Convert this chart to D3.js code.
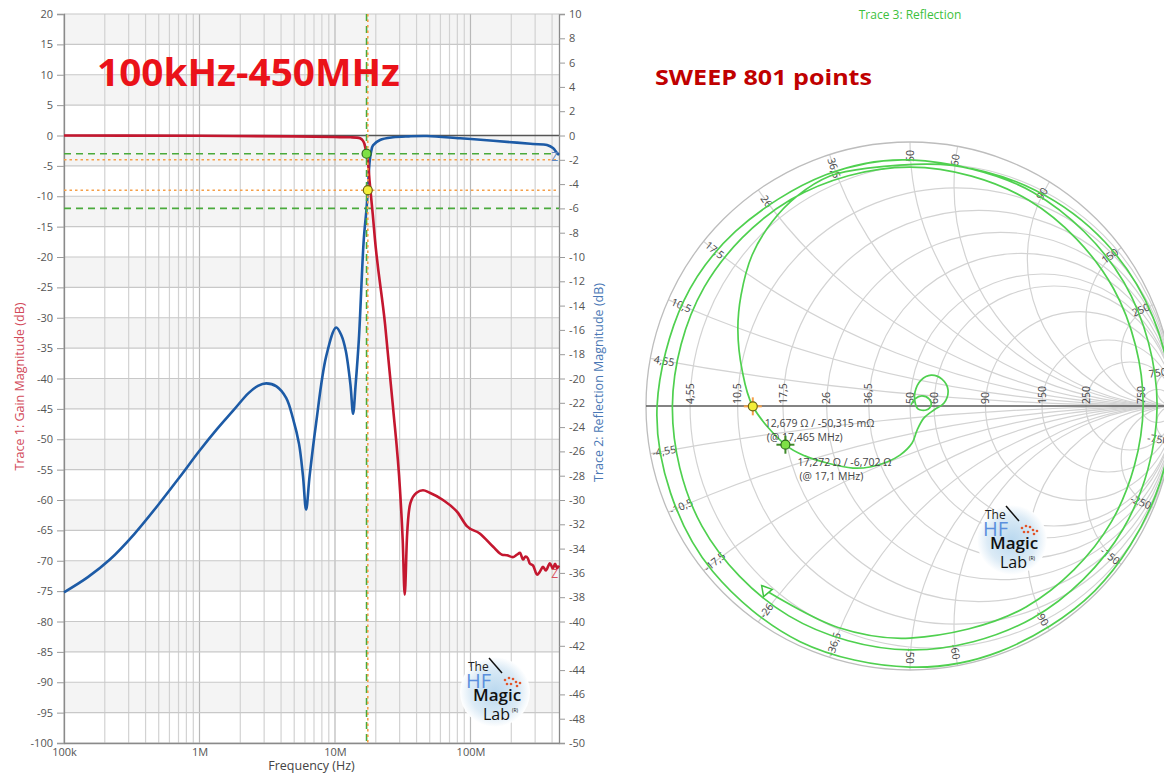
<!DOCTYPE html>
<html>
<head>
<meta charset="utf-8">
<script src="https://cdn.jsdelivr.net/npm/d3@7"></script>
<style>
body { margin: 0; background: #fff; }
svg { display: block; font-family: "Open Sans", "Noto Sans", sans-serif; }
</style>
</head>
<body>
<div class="canvas"></div>
<script>
// trace 1: gain (dB) vs frequency (Hz)
var gainFreq = [1e5, 1e6, 5e6, 1e7, 1.3e7, 1.45e7, 1.53e7, 1.6e7, 1.65e7, 1.71e7, 1.7465e7, 1.8e7, 1.9e7, 1.97e7,
    2.34e7, 2.68e7, 3.02e7, 3.16e7, 3.27e7, 3.4e7, 3.6e7, 4e7, 4.46e7, 5e7, 6.27e7, 8e7, 9.4e7, 1.17e8,
    1.47e8, 1.71e8, 1.86e8, 2.05e8, 2.2e8, 2.32e8, 2.44e8, 2.55e8, 2.65e8, 2.73e8, 2.9e8, 3.1e8, 3.25e8,
    3.43e8, 3.6e8, 3.86e8, 4.05e8, 4.21e8, 4.35e8, 4.5e8];
var gainDb = [0, -0.05, -0.15, -0.25, -0.3, -0.35, -0.45, -0.8, -1.4, -3.0, -4.0, -7.5, -13, -17,
    -31, -44.7, -58.4, -66.6, -75.6, -66, -60.5, -58.8, -58.4, -58.8, -60, -62, -64.3, -65.5,
    -67.7, -69, -69.1, -69.4, -69, -68.7, -69.8, -69.3, -69.6, -70.4, -70.8, -72.3, -71.8,
    -71, -71.6, -70.4, -71.3, -70.5, -71.2, -70.8];

// trace 2: reflection (dB) vs frequency (Hz)
var reflFreq = [1e5, 1.5e5, 2.18e5, 3.3e5, 5.08e5, 7.1e5, 1e6, 1.35e6, 1.77e6, 2.3e6, 2.7e6, 3.11e6,
    3.7e6, 4.36e6, 4.9e6, 5.43e6, 5.8e6, 6.12e6, 6.5e6, 7.25e6, 8.6e6, 1.02e7, 1.12e7, 1.2e7, 1.3e7,
    1.36e7, 1.42e7, 1.5e7, 1.63e7, 1.71e7, 1.7465e7, 1.8e7, 1.85e7, 1.91e7, 2.15e7, 2.68e7, 3.5e7,
    4.77e7, 8.4e7, 1.47e8, 2.2e8, 2.89e8, 3.67e8, 4.06e8, 4.35e8, 4.5e8];
var reflDb = [-37.6, -36.35, -34.9, -32.8, -30.25, -28.15, -25.95, -24.15, -22.65, -21.2, -20.6, -20.4,
    -20.65, -21.6, -23.3, -25.4, -28.0, -30.8, -28.0, -23.7, -18.2, -15.8, -16.5, -17.7, -20.5,
    -22.9, -20.5, -16.8, -8.6, -6.0, -4.5, -2.2, -1.3, -0.8, -0.37, -0.15, -0.07,
    -0.04, -0.23, -0.43, -0.59, -0.70, -0.78, -1.03, -1.44, -1.6];

// markers (freq, gain, reflection)
var markerFreq = [17.1e6, 17.465e6];
var markerGain = [-3, -4];
var markerRefl = [-6, -4.5];

// axis ticks
var gainTicks = d3.range(-100, 21, 5);
var reflTicks = d3.range(-50, 11, 2);
var freqTicks = [1e5, 1e6, 1e7, 1e8];
var freqTickLabels = ['100k', '1M', '10M', '100M'];

// trace 3: smith chart, first part as reflection coefficient re / im
var smithRe = [0.004, 0.019, 0.045, 0.072, 0.080, 0.061, 0.030, 0.019, 0.019, 0.042, 0.080, 0.121,
    0.144, 0.129, 0.091, 0.053, 0.027, 0.008, -0.038, -0.087, -0.152, -0.216, -0.314, -0.398, -0.472,
    -0.596, -0.636, -0.652, -0.640, -0.598, -0.523, -0.428, -0.303, -0.160];
var smithIm = [0.004, 0.027, 0.038, 0.027, 0.004, -0.015, -0.011, 0.015, 0.053, 0.098, 0.117, 0.102,
    0.061, 0.011, -0.015, -0.045, -0.091, -0.140, -0.186, -0.212, -0.231, -0.235, -0.216, -0.189, -0.147,
    0.000, 0.136, 0.288, 0.420, 0.572, 0.697, 0.795, 0.871, 0.901];
// then the laps near the rim, as angle (deg, running clockwise) / magnitude
var lapAngle = [80, 60, 40, 20, 0, -20, -45, -70, -90, -115, -140, -160, -180, -205, -225, -250, -270,
    -300, -330, -360, -390, -420, -450, -480, -510, -540, -570, -600, -630, -660, -690, -720, -750,
    -780, -810, -828, -848];
var lapMag = [0.925, 0.945, 0.965, 0.98, 0.99, 0.99, 0.99, 0.99, 0.989, 0.985, 0.975, 0.965, 0.958,
    0.945, 0.935, 0.932, 0.932, 0.934, 0.936, 0.936, 0.932, 0.928, 0.924, 0.918, 0.91, 0.90, 0.90,
    0.903, 0.905, 0.90, 0.89, 0.883, 0.88, 0.879, 0.879, 0.882, 0.887];

// smith grid values (ohm) and marker impedances
var smithGrid = [4.55, 10.5, 17.5, 26, 36.5, 50, 60, 90, 150, 250, 750];
var smithMarkR = [12.679, 17.272];
var smithMarkX = [-0.050315, -6.702];
var smithMarkText = [['12,679 \u03A9 / -50,315 m\u03A9', '(@ 17,465 MHz)'],
                     ['17,272 \u03A9 / -6,702 \u03A9', '(@ 17,1 MHz)']];

var width = 1164, height = 774;

var svg = d3.select('.canvas').append('svg')
    .attr('width', width)
    .attr('height', height);

var defs = svg.append('defs');
var grad = defs.append('radialGradient').attr('id', 'logoGrad');
grad.append('stop').attr('offset', '0%').attr('stop-color', '#b9d8ef');
grad.append('stop').attr('offset', '70%').attr('stop-color', '#dcebf6');
grad.append('stop').attr('offset', '100%').attr('stop-color', '#ffffff');

// ---------- left: bode plot ----------
var plot = {left: 64, right: 559, top: 14, bottom: 743};

var x = d3.scaleLog().domain([1e5, 4.5e8]).range([plot.left, plot.right]);
var yGain = d3.scaleLinear().domain([-100, 20]).range([plot.bottom, plot.top]);
var yRefl = d3.scaleLinear().domain([-50, 10]).range([plot.bottom, plot.top]);

var bode = svg.append('g');

// shaded bands every other 5 dB
bode.selectAll('rect.band')
    .data(d3.range(-100, 20, 5).filter(function (v) { return (v + 5) % 10 === 0; }))
    .enter().append('rect')
    .attr('x', plot.left).attr('width', plot.right - plot.left)
    .attr('y', function (d) { return yGain(d + 5); })
    .attr('height', function (d) { return yGain(d) - yGain(d + 5); })
    .attr('fill', '#f4f4f4');

// vertical log grid
var minor = [];
[1e5, 1e6, 1e7, 1e8].forEach(function (dec) {
    for (var k = 1; k < 10; k++) {
        if (dec * k <= 4.5e8) minor.push(dec * k);
    }
});
bode.selectAll('line.vgrid')
    .data(minor)
    .enter().append('line')
    .attr('x1', function (d) { return x(d); })
    .attr('x2', function (d) { return x(d); })
    .attr('y1', plot.top).attr('y2', plot.bottom)
    .attr('stroke', function (d) { return freqTicks.indexOf(d) >= 0 ? '#b8b8b8' : '#d2d2d2'; })
    .attr('stroke-width', 1.2);

bode.selectAll('line.hgrid')
    .data(gainTicks)
    .enter().append('line')
    .attr('x1', plot.left).attr('x2', plot.right)
    .attr('y1', function (d) { return yGain(d); })
    .attr('y2', function (d) { return yGain(d); })
    .attr('stroke', function (d) { return d === 0 ? '#555' : '#c8c8c8'; })
    .attr('stroke-width', function (d) { return d === 0 ? 1.6 : 1.2; });

// axes
function styleAxis(g) {
    g.select('.domain').attr('stroke', '#8a8a8a').attr('stroke-width', 1.3);
    g.selectAll('.tick line').attr('stroke', '#9a9a9a');
    g.selectAll('.tick text').attr('fill', '#555').attr('font-size', 11)
        .attr('font-family', '"Open Sans", sans-serif');
}

bode.append('g')
    .attr('transform', 'translate(' + plot.left + ',0)')
    .call(d3.axisLeft(yGain).tickValues(gainTicks).tickSize(7).tickPadding(4)
        .tickFormat(function (d) { return String(d); }))
    .call(styleAxis);

bode.append('g')
    .attr('transform', 'translate(' + plot.right + ',0)')
    .call(d3.axisRight(yRefl).tickValues(reflTicks).tickSize(6).tickPadding(4)
        .tickFormat(function (d) { return String(d); }))
    .call(styleAxis);

bode.append('g')
    .attr('transform', 'translate(0,' + plot.bottom + ')')
    .call(d3.axisBottom(x).tickValues(freqTicks).tickSize(0).tickPadding(5)
        .tickFormat(function (d, i) { return freqTickLabels[i]; }))
    .call(styleAxis);

// marker guide lines
var hGuides = [
    {v: yGain(markerGain[0]), c: '#4aaa3c', dash: '7,5'},
    {v: yRefl(markerRefl[0]), c: '#4aaa3c', dash: '7,5'},
    {v: yGain(markerGain[1]), c: '#f5a04a', dash: '2.5,3'},
    {v: yRefl(markerRefl[1]), c: '#f5a04a', dash: '2.5,3'}
];
bode.selectAll('line.hguide')
    .data(hGuides)
    .enter().append('line')
    .attr('x1', plot.left).attr('x2', plot.right)
    .attr('y1', function (d) { return d.v; })
    .attr('y2', function (d) { return d.v; })
    .attr('stroke', function (d) { return d.c; })
    .attr('stroke-width', 1.6)
    .attr('stroke-dasharray', function (d) { return d.dash; });

// traces
var gainLine = d3.line()
    .x(function (d) { return x(d[0]); })
    .y(function (d) { return yGain(d[1]); })
    .curve(d3.curveMonotoneX);
var reflLine = d3.line()
    .x(function (d) { return x(d[0]); })
    .y(function (d) { return yRefl(d[1]); })
    .curve(d3.curveCatmullRom.alpha(0.5));

bode.append('path')
    .datum(d3.zip(reflFreq, reflDb))
    .attr('d', reflLine)
    .attr('fill', 'none')
    .attr('stroke', '#1d5ba6')
    .attr('stroke-width', 2.6);

bode.append('path')
    .datum(d3.zip(gainFreq, gainDb))
    .attr('d', gainLine)
    .attr('fill', 'none')
    .attr('stroke', '#c4172f')
    .attr('stroke-width', 2.6);

// vertical marker lines
bode.append('line')
    .attr('x1', x(markerFreq[0])).attr('x2', x(markerFreq[0]))
    .attr('y1', plot.top).attr('y2', plot.bottom)
    .attr('stroke', '#4aaa3c').attr('stroke-width', 1.6).attr('stroke-dasharray', '7,5');
bode.append('line')
    .attr('x1', x(markerFreq[1])).attr('x2', x(markerFreq[1]))
    .attr('y1', plot.top).attr('y2', plot.bottom)
    .attr('stroke', '#f5a04a').attr('stroke-width', 1.6).attr('stroke-dasharray', '2.5,3');

// marker dots
bode.append('circle')
    .attr('cx', x(markerFreq[0])).attr('cy', yGain(markerGain[0])).attr('r', 4.5)
    .attr('fill', '#7ee046').attr('stroke', '#2d6a1c').attr('stroke-width', 1.2);
bode.append('circle')
    .attr('cx', x(markerFreq[1])).attr('cy', yRefl(markerRefl[1])).attr('r', 4.5)
    .attr('fill', '#f2ee3a').attr('stroke', '#6b6414').attr('stroke-width', 1.2);

// end tags
bode.append('text')
    .attr('x', plot.right - 1).attr('y', yRefl(reflDb[reflDb.length - 1]) + 6)
    .attr('text-anchor', 'end').attr('font-size', 12).attr('fill', '#5f86c0').text('Z');
bode.append('text')
    .attr('x', plot.right - 1).attr('y', yGain(gainDb[gainDb.length - 1]) + 12)
    .attr('text-anchor', 'end').attr('font-size', 12).attr('fill', '#d9505e').text('Z');

// axis titles
bode.append('text')
    .attr('transform', 'translate(24,' + ((plot.top + plot.bottom) / 2 + 8) + ') rotate(-90)')
    .attr('text-anchor', 'middle').attr('font-size', 12.5).attr('fill', '#d24a5a')
    .text('Trace 1: Gain Magnitude (dB)');
bode.append('text')
    .attr('transform', 'translate(603,' + ((plot.top + plot.bottom) / 2 + 4) + ') rotate(-90)')
    .attr('text-anchor', 'middle').attr('font-size', 12.5).attr('fill', '#4a78b5')
    .text('Trace 2: Reflection Magnitude (dB)');
bode.append('text')
    .attr('x', (plot.left + plot.right) / 2).attr('y', 770)
    .attr('text-anchor', 'middle').attr('font-size', 12.5).attr('fill', '#444')
    .text('Frequency (Hz)');

// big red title
svg.append('text')
    .attr('x', 97).attr('y', 86)
    .attr('font-size', 38).attr('font-weight', 'bold').attr('fill', '#ea1219')
    .attr('textLength', 303).attr('lengthAdjust', 'spacingAndGlyphs')
    .text('100kHz-450MHz');

// ---------- right: smith chart ----------
var smith = {cx: 910, cy: 406, r: 264};
var gx = d3.scaleLinear().domain([-1, 1]).range([smith.cx - smith.r, smith.cx + smith.r]);
var gy = d3.scaleLinear().domain([-1, 1]).range([smith.cy + smith.r, smith.cy - smith.r]);
var unit = gx(1) - gx(0);

defs.append('clipPath').attr('id', 'unitClip')
    .append('circle').attr('cx', gx(0)).attr('cy', gy(0)).attr('r', unit);

var sc = svg.append('g');
var grid = sc.append('g').attr('clip-path', 'url(#unitClip)');

// constant resistance circles
grid.selectAll('circle.res')
    .data(smithGrid)
    .enter().append('circle')
    .attr('cx', function (d) { var r = d / 50; return gx(r / (1 + r)); })
    .attr('cy', gy(0))
    .attr('r', function (d) { var r = d / 50; return unit / (1 + r); })
    .attr('fill', 'none').attr('stroke', '#d3d3d3').attr('stroke-width', 1.2);

// constant reactance arcs
var reactance = smithGrid.concat(smithGrid.map(function (v) { return -v; }));
grid.selectAll('circle.rea')
    .data(reactance)
    .enter().append('circle')
    .attr('cx', gx(1))
    .attr('cy', function (d) { return gy(50 / d); })
    .attr('r', function (d) { return unit * 50 / Math.abs(d); })
    .attr('fill', 'none').attr('stroke', '#d3d3d3').attr('stroke-width', 1.2);

sc.append('circle')
    .attr('cx', gx(0)).attr('cy', gy(0)).attr('r', unit)
    .attr('fill', 'none').attr('stroke', '#bdbdbd').attr('stroke-width', 1.3);

sc.append('line')
    .attr('x1', gx(-1)).attr('x2', width)
    .attr('y1', gy(0)).attr('y2', gy(0))
    .attr('stroke', '#5a5a5a').attr('stroke-width', 1.4);

function fmt(v) { return String(v).replace('.', ','); }

// labels on the real axis
sc.selectAll('text.rlab')
    .data(smithGrid)
    .enter().append('text')
    .attr('transform', function (d) {
        var r = d / 50;
        return 'translate(' + gx((r - 1) / (r + 1)) + ',' + (gy(0) - 2) + ') rotate(-90)';
    })
    .attr('dy', '0.35em')
    .attr('font-size', 10.5).attr('fill', '#444')
    .text(fmt);

// reactance labels round the rim
sc.selectAll('text.xlab')
    .data(reactance)
    .enter().append('text')
    .attr('transform', function (d) {
        var xn = Math.abs(d) / 50;
        var th = (Math.PI - 2 * Math.atan(xn)) * (d < 0 ? -1 : 1);
        var px = gx(0) + (unit - 14) * Math.cos(th),
            py = gy(0) - (unit - 14) * Math.sin(th);
        var rot = Math.atan2(Math.sin(th), -Math.cos(th)) * 180 / Math.PI;
        if (rot > 90) rot -= 180;
        if (rot < -90) rot += 180;
        return 'translate(' + px + ',' + py + ') rotate(' + rot + ')';
    })
    .attr('text-anchor', 'middle').attr('dy', '0.35em')
    .attr('font-size', 10.5).attr('fill', '#444')
    .text(fmt);

// trace 3
var smithPts = d3.zip(smithRe, smithIm).concat(lapAngle.map(function (a, i) {
    var t = a * Math.PI / 180;
    return [lapMag[i] * Math.cos(t), lapMag[i] * Math.sin(t)];
}));
var smithLine = d3.line()
    .x(function (d) { return gx(d[0]); })
    .y(function (d) { return gy(d[1]); })
    .curve(d3.curveCatmullRom.alpha(0.5));

sc.append('path')
    .datum(smithPts)
    .attr('d', smithLine)
    .attr('fill', 'none')
    .attr('stroke', '#4fd04f')
    .attr('stroke-width', 1.7);

var lastPt = smithPts[smithPts.length - 1];
sc.append('path')
    .attr('d', d3.symbol(d3.symbolTriangle, 55)())
    .attr('transform', 'translate(' + gx(lastPt[0]) + ',' + gy(lastPt[1]) + ') rotate(200)')
    .attr('fill', '#fff').attr('stroke', '#3fc43f').attr('stroke-width', 1.5);

// smith markers
function gamma(R, X) {
    var r = R / 50, xx = X / 50;
    var den = (r + 1) * (r + 1) + xx * xx;
    return [(r * r - 1 + xx * xx) / den, 2 * xx / den];
}
var markStyle = [
    {fill: '#f2ee3a', stroke: '#6b6414', cross: '#f5a04a'},
    {fill: '#7ee046', stroke: '#2d6a1c', cross: '#3f8a2a'}
];
smithMarkR.forEach(function (R, i) {
    var gm = gamma(R, smithMarkX[i]);
    var px = gx(gm[0]), py = gy(gm[1]);
    var st = markStyle[i];
    sc.append('line').attr('x1', px - 9).attr('x2', px + 9).attr('y1', py).attr('y2', py)
        .attr('stroke', st.cross).attr('stroke-width', 2);
    sc.append('line').attr('x1', px).attr('x2', px).attr('y1', py - 9).attr('y2', py + 9)
        .attr('stroke', st.cross).attr('stroke-width', 2);
    sc.append('circle').attr('cx', px).attr('cy', py).attr('r', 4.5)
        .attr('fill', st.fill).attr('stroke', st.stroke).attr('stroke-width', 1.2);
    var t = sc.append('text').attr('font-size', 10.5).attr('fill', '#444');
    t.append('tspan').attr('x', px + 12).attr('y', py + 21).text(smithMarkText[i][0]);
    t.append('tspan').attr('x', px + 14).attr('y', py + 35).text(smithMarkText[i][1]);
});

svg.append('text')
    .attr('x', 910).attr('y', 19)
    .attr('text-anchor', 'middle').attr('font-size', 12).attr('fill', '#3dbf3d')
    .text('Trace 3: Reflection');

svg.append('text')
    .attr('x', 655).attr('y', 85)
    .attr('font-size', 22).attr('font-weight', 'bold').attr('fill', '#c00000')
    .attr('textLength', 217).attr('lengthAdjust', 'spacingAndGlyphs')
    .text('SWEEP 801 points');

// logo
function drawLogo(cx, cy) {
    var g = svg.append('g').attr('transform', 'translate(' + cx + ',' + cy + ')');
    g.append('circle').attr('r', 35).attr('fill', 'url(#logoGrad)');
    g.append('text').attr('x', -27).attr('y', -21).attr('font-size', 12).attr('fill', '#222').text('The');
    g.append('line').attr('x1', -6).attr('y1', -34).attr('x2', 7).attr('y2', -19)
        .attr('stroke', '#111').attr('stroke-width', 1.5);
    g.append('text').attr('x', -29).attr('y', -4).attr('font-size', 20).attr('fill', '#5b8fdd').text('HF');
    [[10, -12], [14, -14], [18, -13], [21, -10], [12, -8], [16, -8], [22, -6], [25, -9]]
        .forEach(function (p) {
            g.append('circle').attr('cx', p[0]).attr('cy', p[1]).attr('r', 1.3).attr('fill', '#e2552a');
        });
    g.append('text').attr('x', -22).attr('y', 9).attr('font-size', 17).attr('fill', '#111')
        .attr('font-weight', 600).text('Magic');
    g.append('text').attr('x', -12).attr('y', 28).attr('font-size', 16).attr('fill', '#111').text('Lab');
    g.append('text').attr('x', 17).attr('y', 20).attr('font-size', 5).attr('fill', '#111').text('(R)');
}
drawLogo(495, 692);
drawLogo(1012, 540);
</script>
</body>
</html>
